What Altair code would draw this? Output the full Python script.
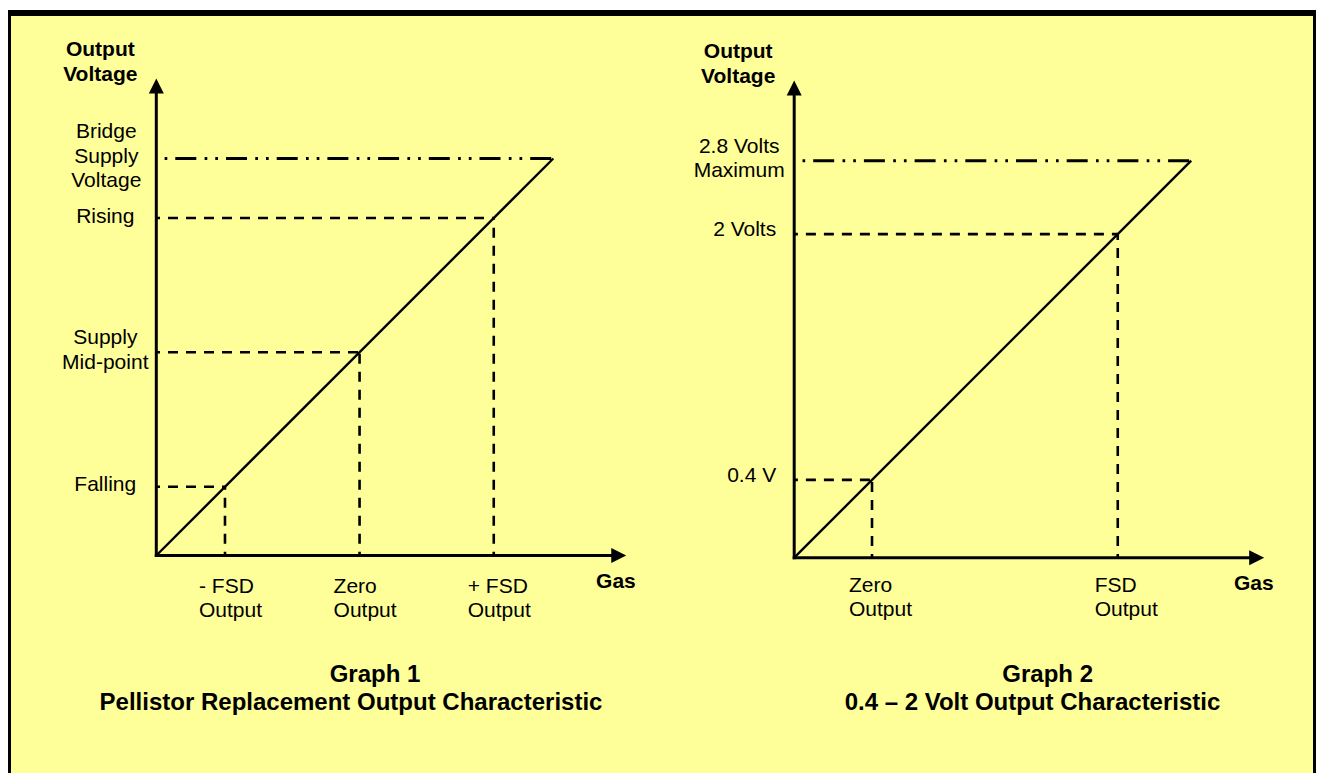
import altair as alt
import pandas as pd

FONT = "Liberation Sans"
YELLOW = "#FFFF99"

# ---------------- data (schematic units: origin = 0, top level = 100) ----------------
g1_level_labels = ["Falling", "Supply\nMid-point", "Rising"]
g1_level_values = [17.3, 51.2, 85.0]
g1_gas_labels = ["- FSD\nOutput", "Zero\nOutput", "+ FSD\nOutput"]
g1_max_label = "Bridge\nSupply\nVoltage"
g1_max_value = 100.0
g1_curve_gas = [0, 100]
g1_curve_out = [0, 100]
g1_title = ["Graph 1", "Pellistor Replacement Output Characteristic"]

g2_level_labels = ["0.4 V", "2 Volts"]
g2_level_values = [19.6, 81.5]
g2_gas_labels = ["Zero\nOutput", "FSD\nOutput"]
g2_max_label = "2.8 Volts\nMaximum"
g2_max_value = 100.0
g2_curve_gas = [0, 100]
g2_curve_out = [0, 100]
g2_title = ["Graph 2", "0.4 \u2013 2 Volt Output Characteristic"]

y_axis_title = "Output\nVoltage"
x_axis_title = "Gas"

# ---------------- layout ----------------
W, H = 1308, 765
UNIT = 3.97          # pixels per schematic unit
LH = 24.5            # line height of multi-line labels
Y_AXIS_TOP = 116.4   # axis line end (arrow base)
X_AXIS_END = 114.6
ARROW = 900          # symbol size -> 15 px arrowheads
UP = "M0,-1L-0.5,0L0.5,0Z"
RIGHT = "M1,0L0,-0.5L0,0.5Z"

TXT = dict(font=FONT, fontSize=21, color="black", lineBreak="\n", lineHeight=LH)
BOLD = dict(font=FONT, fontSize=21, fontWeight="bold", color="black",
            lineBreak="\n", lineHeight=LH)
TITLE = dict(font=FONT, fontSize=24, fontWeight="bold", color="black")


def label_frame(labels, values):
    return pd.DataFrame({"label": labels, "v": values,
                         "nl": [s.count("\n") + 1 for s in labels]})


def build_graph(level_labels, level_values, gas_labels, max_label, max_value,
                curve_gas, curve_out, title, origin, lvl, top, gas_dx, gas_y, title_pos):
    ox, oy = origin
    xs = alt.Scale(domain=[-ox / UNIT, (W - ox) / UNIT], nice=False, zero=False)
    ys = alt.Scale(domain=[-(H - oy) / UNIT, oy / UNIT], nice=False, zero=False)

    def X(f):
        return alt.X(f, type="quantitative", scale=xs, axis=None)

    def Y(f):
        return alt.Y(f, type="quantitative", scale=ys, axis=None)

    def XD(v):
        return alt.XDatum(v, type="quantitative", scale=xs, axis=None)

    def YD(v):
        return alt.YDatum(v, type="quantitative", scale=ys, axis=None)

    def text_layers(df, x, y, align, dx, dy, style):
        out = []
        for n in sorted(set(df["nl"])):
            out.append(
                alt.Chart(df).transform_filter(f"datum.nl == {n}").mark_text(
                    align=align, baseline="middle", dx=dx,
                    dy=dy - (n - 1) * LH / 2, **style
                ).encode(x=x, y=y, text="label:N")
            )
        return out

    levels = pd.DataFrame({"v": level_values, "zero": 0.0})
    topdf = pd.DataFrame({"v": [max_value], "zero": [0.0]})
    curve = pd.DataFrame({"gas": curve_gas, "out": curve_out})
    one = pd.DataFrame({"k": [0]})

    hdash = alt.Chart(levels).mark_rule(
        color="black", strokeWidth=2.6, strokeDash=[10, 8], strokeDashOffset=6.3
    ).encode(x=X("zero"), x2="v", y=Y("v"))
    vdash = alt.Chart(levels).mark_rule(
        color="black", strokeWidth=2.6, strokeDash=[10, 8], strokeDashOffset=6.3
    ).encode(x=X("v"), y=Y("zero"), y2="v")
    dashdot = alt.Chart(topdf).mark_rule(
        color="black", strokeWidth=3, strokeDash=[21, 8.3, 2.7, 8, 2.7, 8],
        strokeDashOffset=31.7
    ).encode(x=X("zero"), x2="v", y=Y("v"))
    line = alt.Chart(curve).mark_line(color="black", strokeWidth=2.4).encode(
        x=X("gas"), y=Y("out"))

    yaxis = alt.Chart(one).mark_rule(color="black", strokeWidth=3, strokeCap="square").encode(
        x=XD(0), y=YD(0), y2=alt.Y2Datum(Y_AXIS_TOP))
    xaxis = alt.Chart(one).mark_rule(color="black", strokeWidth=3, strokeCap="square").encode(
        x=XD(0), x2=alt.X2Datum(X_AXIS_END), y=YD(0))
    uparrow = alt.Chart(one).mark_point(
        shape=UP, size=ARROW, filled=True, opacity=1, color="black", strokeWidth=0
    ).encode(x=XD(0), y=YD(Y_AXIS_TOP))
    rarrow = alt.Chart(one).mark_point(
        shape=RIGHT, size=ARROW, filled=True, opacity=1, color="black", strokeWidth=0
    ).encode(x=XD(X_AXIS_END), y=YD(0))

    texts = []
    texts += text_layers(label_frame(level_labels, level_values),
                         XD(0), Y("v"), lvl[0], lvl[1], lvl[2], TXT)
    texts += text_layers(label_frame([max_label], [max_value]),
                         XD(0), Y("v"), top[0], top[1], top[2], TXT)
    texts += text_layers(label_frame(gas_labels, level_values),
                         X("v"), YD(gas_y), "left", gas_dx, 0, TXT)
    texts += text_layers(label_frame([y_axis_title], [0]),
                         XD(0), YD(124.2), "center", -56, 0, BOLD)
    texts += text_layers(label_frame([x_axis_title], [0]),
                         XD(X_AXIS_END + 3.7), YD(0), "center", -10, 26, BOLD)

    t1 = alt.Chart(one).mark_text(
        text=title[0], align="center", baseline="middle",
        dx=title_pos[0], dy=title_pos[2], **TITLE
    ).encode(x=XD(0), y=YD(0))
    t2 = alt.Chart(one).mark_text(
        text=title[1], align="center", baseline="middle",
        dx=title_pos[1], dy=title_pos[2] + 28, **TITLE
    ).encode(x=XD(0), y=YD(0))

    return alt.layer(hdash, vdash, dashdot, line, yaxis, xaxis, uparrow, rarrow,
                     *texts, t1, t2)


g1 = build_graph(g1_level_labels, g1_level_values, g1_gas_labels, g1_max_label,
                 g1_max_value, g1_curve_gas, g1_curve_out, g1_title,
                 origin=(148.3, 542.5),
                 lvl=("center", -51, -1.5), top=("center", -50, -2),
                 gas_dx=-26, gas_y=-10.9, title_pos=(218.7, 194.7, 119.5))
g2 = build_graph(g2_level_labels, g2_level_values, g2_gas_labels, g2_max_label,
                 g2_max_value, g2_curve_gas, g2_curve_out, g2_title,
                 origin=(786.2, 544.7),
                 lvl=("right", -18, -4), top=("center", -55, -1.7),
                 gas_dx=-23, gas_y=-10.2, title_pos=(253.5, 238.3, 117.3))

chart = alt.layer(g1, g2).resolve_scale(x="independent", y="independent").properties(
    width=W, height=H,
    padding={"left": 0, "top": 5, "right": 0, "bottom": 0},
    autosize=alt.AutoSizeParams(type="none"),
).configure_view(fill=YELLOW, stroke="black", strokeWidth=6)

chart.save("out.html", embed_options={"renderer": "svg", "actions": False})
